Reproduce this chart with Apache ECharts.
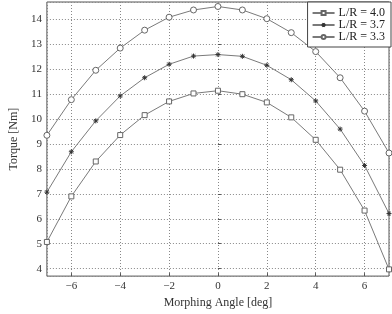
<!DOCTYPE html>
<html>
<head>
<meta charset="utf-8">
<script src="https://cdn.jsdelivr.net/npm/echarts@6/dist/echarts.min.js"></script>
<style>
  html, body { margin: 0; padding: 0; background: #fff; }
  #chart { width: 392px; height: 314px; }
</style>
</head>
<body>
<div id="chart"></div>
<script>
// morphing angle [deg]
const angles = [-7, -6, -5, -4, -3, -2, -1, 0, 1, 2, 3, 4, 5, 6, 7]
// torque [Nm] per L/R ratio
const torque40 = [5.07, 6.9, 8.3, 9.36, 10.16, 10.71, 11.03, 11.14, 11.0, 10.67, 10.07, 9.17, 7.97, 6.33, 3.97]
const torque37 = [7.07, 8.69, 9.93, 10.93, 11.66, 12.2, 12.53, 12.59, 12.52, 12.16, 11.58, 10.73, 9.6, 8.14, 6.21]
const torque33 = [9.35, 10.78, 11.96, 12.85, 13.57, 14.09, 14.38, 14.52, 14.38, 14.03, 13.47, 12.71, 11.66, 10.32, 8.64]
const seriesNames = ['L/R = 4.0', 'L/R = 3.7', 'L/R = 3.3']

const font = 'Liberation Serif'
const lineGray = '#7a7a7a'
const asterisk = 'path://M0,-5L0,5M-5,0L5,0M-3.6,-3.6L3.6,3.6M-3.6,3.6L3.6,-3.6'

const pairs = (ys) => angles.map((x, i) => [x, ys[i]])

const chart = echarts.init(document.getElementById('chart'))
chart.setOption({
  backgroundColor: '#fff',
  animation: false,
  grid: { left: 32, right: 3, top: 2, bottom: 31, show: true, borderColor: '#555', borderWidth: 1 },
  legend: {
    right: 1,
    top: 2,
    orient: 'vertical',
    itemWidth: 22,
    itemHeight: 5,
    itemGap: 0,
    padding: [5, 6, 4, 4],
    backgroundColor: '#fff',
    borderColor: '#444',
    borderWidth: 1,
    borderRadius: 0,
    textStyle: { fontFamily: font, fontSize: 12, lineHeight: 11, color: '#222', padding: [0, 0, 0, -1] },
    data: seriesNames,
  },
  xAxis: {
    type: 'value',
    min: -7,
    max: 7,
    minInterval: 2,
    maxInterval: 2,
    name: 'Morphing Angle [deg]',
    nameLocation: 'middle',
    nameGap: 20,
    nameTextStyle: { fontFamily: font, fontSize: 12, color: '#333' },
    axisLine: { show: false },
    axisTick: { show: true, inside: true, length: 3, lineStyle: { color: '#555' } },
    axisLabel: {
      fontFamily: font, fontSize: 11, color: '#333', margin: 5,
      showMinLabel: false, showMaxLabel: false,
      formatter: (v) => (v < 0 ? '\u2212' + Math.abs(v) : String(v)),
    },
    splitLine: { show: true, lineStyle: { color: '#888', type: [1, 2], width: 1 } },
  },
  yAxis: {
    type: 'value',
    min: 3.7,
    max: 14.7,
    minInterval: 1,
    maxInterval: 1,
    name: 'Torque [Nm]',
    nameLocation: 'middle',
    nameGap: 21,
    nameTextStyle: { fontFamily: font, fontSize: 12, color: '#333' },
    axisLine: { show: false },
    axisTick: { show: true, inside: true, length: 3, lineStyle: { color: '#555' } },
    axisLabel: {
      fontFamily: font, fontSize: 11, color: '#333', margin: 5,
      showMinLabel: false, showMaxLabel: false,
    },
    splitLine: { show: true, lineStyle: { color: '#888', type: [1, 2], width: 1 } },
  },
  series: [
    {
      name: seriesNames[0],
      type: 'line',
      data: pairs(torque40),
      symbol: 'rect',
      symbolSize: 5,
      lineStyle: { color: lineGray, width: 1 },
      itemStyle: { color: '#fff', borderColor: '#666', borderWidth: 1 },
    },
    {
      name: seriesNames[1],
      type: 'line',
      data: pairs(torque37),
      symbol: asterisk,
      symbolSize: 5,
      lineStyle: { color: lineGray, width: 1 },
      itemStyle: { color: '#333', borderColor: '#333', borderWidth: 1 },
    },
    {
      name: seriesNames[2],
      type: 'line',
      data: pairs(torque33),
      symbol: 'circle',
      symbolSize: 6,
      lineStyle: { color: lineGray, width: 1 },
      itemStyle: { color: '#fff', borderColor: '#666', borderWidth: 1 },
    },
  ],
})
</script>
</body>
</html>
